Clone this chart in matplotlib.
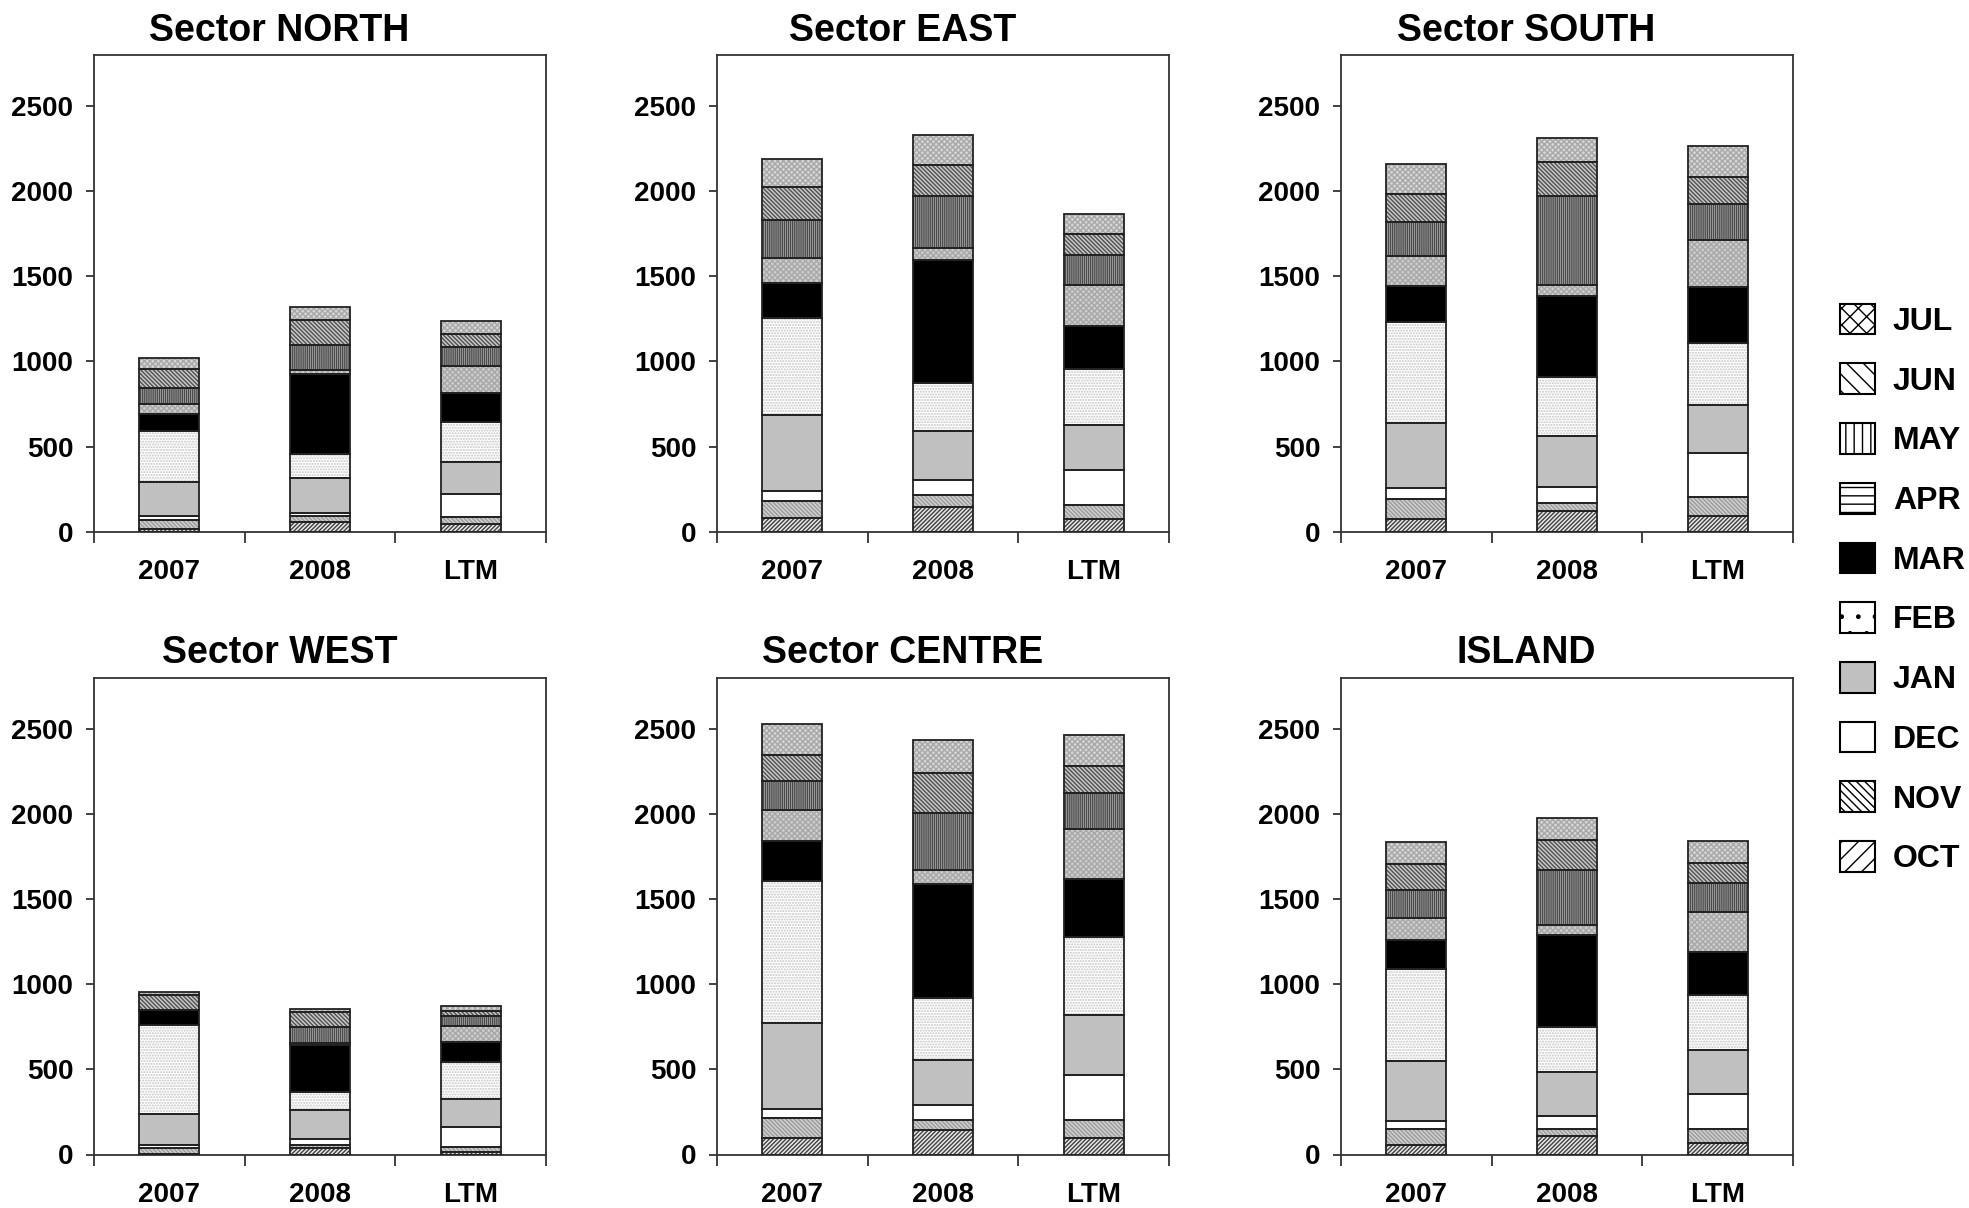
import matplotlib
matplotlib.use('Agg')
import matplotlib.pyplot as plt
from matplotlib.patches import Patch
import numpy as np

plt.rcParams['font.family'] = ['Liberation Sans', 'DejaVu Sans']
plt.rcParams['font.weight'] = 'bold'

months = ['OCT', 'NOV', 'DEC', 'JAN', 'FEB', 'MAR', 'APR', 'MAY', 'JUN', 'JUL']
periods = ['2007', '2008', 'LTM']
titles = ['Sector NORTH', 'Sector EAST', 'Sector SOUTH',
          'Sector WEST', 'Sector CENTRE', 'ISLAND']
yticks = [0, 500, 1000, 1500, 2000, 2500]

# values per month (OCT .. JUL) for each period
north_2007 = [16, 52, 26, 195, 301, 99, 63, 94, 111, 64]
north_2008 = [59, 33, 19, 207, 141, 469, 23, 146, 148, 74]
north_ltm = [43, 45, 131, 189, 238, 168, 160, 113, 73, 75]
east_2007 = [80, 98, 60, 446, 568, 209, 146, 221, 195, 164]
east_2008 = [146, 69, 88, 287, 283, 719, 74, 305, 180, 176]
east_ltm = [74, 80, 211, 260, 330, 250, 244, 176, 123, 117]
south_2007 = [76, 114, 64, 384, 595, 209, 175, 199, 166, 177]
south_2008 = [123, 47, 94, 296, 346, 480, 60, 525, 199, 143]
south_ltm = [94, 110, 256, 286, 360, 330, 276, 212, 158, 184]
west_2007 = [5, 32, 16, 185, 524, 88, 0, 0, 88, 17]
west_2008 = [39, 14, 39, 168, 107, 278, 9, 92, 88, 19]
west_ltm = [16, 29, 117, 164, 219, 115, 92, 62, 26, 29]
centre_2007 = [96, 119, 55, 503, 834, 235, 179, 170, 153, 181]
centre_2008 = [146, 55, 88, 264, 365, 668, 84, 334, 234, 193]
centre_ltm = [96, 105, 264, 351, 459, 342, 293, 211, 158, 182]
island_2007 = [57, 93, 47, 352, 541, 172, 127, 166, 152, 129]
island_2008 = [107, 45, 75, 255, 266, 541, 59, 322, 178, 130]
island_ltm = [68, 80, 205, 260, 322, 254, 237, 168, 119, 129]

sectors = [
    [north_2007, north_2008, north_ltm],
    [east_2007, east_2008, east_ltm],
    [south_2007, south_2008, south_ltm],
    [west_2007, west_2008, west_ltm],
    [centre_2007, centre_2008, centre_ltm],
    [island_2007, island_2008, island_ltm],
]

# bar fill styles: (face, hatch, hatch colour)
bar_styles = [
    ('#e8e8e8', '////////', '#404040'),          # OCT
    ('#d0d0d0', '\\\\\\\\\\\\\\\\', '#9a9a9a'),   # NOV
    ('white', '', 'white'),                      # DEC
    ('#c0c0c0', '', '#c0c0c0'),                  # JAN
    ('white', '......', '#c4c4c4'),              # FEB
    ('black', '', 'black'),                      # MAR
    ('#cdcdcd', 'xxxxxx', '#a8a8a8'),            # APR
    ('#b8b8b8', '||||||||', '#4a4a4a'),          # MAY
    ('#c8c8c8', '\\\\\\\\\\\\\\\\', '#505050'),   # JUN
    ('#d6d6d6', 'xxxxxx', '#a8a8a8'),            # JUL
]
# legend styles (coarser patterns)
legend_styles = [
    ('white', '//', 'black'),
    ('white', '\\\\\\\\', 'black'),
    ('white', '', 'black'),
    ('#c0c0c0', '', 'black'),
    ('white', '.', 'black'),
    ('black', '', 'black'),
    ('white', '--', 'black'),
    ('white', '||', 'black'),
    ('white', '\\\\', 'black'),
    ('white', 'xx', 'black'),
]

W, H = 1969, 1208
fig = plt.figure(figsize=(W / 100, H / 100), dpi=100)

lefts = [94 / W, 717 / W, 1341 / W]
bottoms = [1 - 531.7 / H, 1 - 1154.5 / H]
aw = 452 / W
ah = 477 / H

x = np.arange(len(periods))
for k, (title, data) in enumerate(zip(titles, sectors)):
    r, c = divmod(k, 3)
    ax = fig.add_axes([lefts[c], bottoms[r], aw, ah])
    bottom = np.zeros(len(periods))
    for i, m in enumerate(months):
        vals = np.array([d[i] for d in data], dtype=float)
        face, hatch, hc = bar_styles[i]
        ax.bar(x, vals, 0.4, bottom=bottom, color=face, hatch=hatch,
               edgecolor=hc, linewidth=0, zorder=2)
        ax.bar(x, vals, 0.4, bottom=bottom, fill=False,
               edgecolor='#222222', linewidth=1.3, zorder=3)
        bottom += vals
    ax.set_xlim(-0.5, 2.5)
    ax.set_ylim(0, 2800)
    ax.set_yticks(yticks)
    ax.set_xticks(x)
    ax.set_xticklabels(periods)
    ax.set_xticks([-0.5, 0.5, 1.5, 2.5], minor=True)
    ax.tick_params(axis='x', which='major', length=0, pad=20, labelsize=20)
    ax.tick_params(axis='x', which='minor', length=8, width=1.3,
                   direction='out', color='#333333')
    ax.tick_params(axis='y', length=6, width=1.3, direction='out',
                   pad=9, labelsize=20, color='#333333')
    for lab in ax.get_xticklabels() + ax.get_yticklabels():
        lab.set_fontweight('bold')
    for sp in ax.spines.values():
        sp.set_linewidth(1.3)
        sp.set_color('#333333')
    ax.text(0.41, 1 + 14 / 477, title, transform=ax.transAxes,
            ha='center', va='baseline', fontsize=27, fontweight='bold')

handles = [Patch(facecolor=f, hatch=h, edgecolor=e, linewidth=1.5)
           for f, h, e in legend_styles]
fig.legend(handles[::-1], months[::-1], loc='center left',
           bbox_to_anchor=(1840 / W, 1 - 589 / H), frameon=False,
           fontsize=23, handlelength=1.1, handleheight=1.1,
           handletextpad=0.55, labelspacing=0.83, borderaxespad=0,
           borderpad=0)

fig.savefig('out.png', dpi=100)
